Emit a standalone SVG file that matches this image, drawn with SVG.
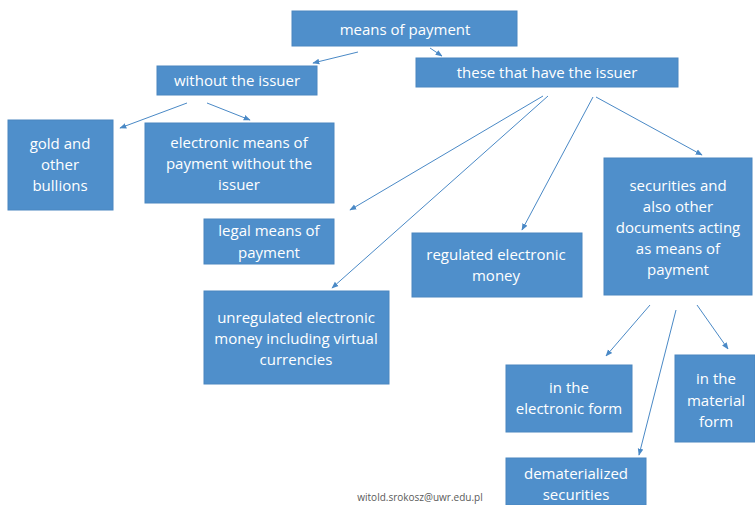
<svg xmlns="http://www.w3.org/2000/svg" width="755" height="505" viewBox="0 0 755 505">
<style>
.box{fill:#4F8FCB;stroke:#4A86C0;stroke-width:1}
.t{font-family:"Open Sans","Liberation Sans",sans-serif;font-size:15px;fill:#ffffff;text-anchor:middle}
.c{stroke:#4A89C6;stroke-width:1;fill:none;marker-end:url(#ah)}
.f{font-family:"Open Sans","Liberation Sans",sans-serif;font-size:10px;fill:#5a5a5a}
</style>
<defs>
<marker id="ah" viewBox="0 0 10 10" refX="9" refY="5" markerWidth="7" markerHeight="7" orient="auto" markerUnits="userSpaceOnUse">
<path d="M0,1 L10,5 L0,9 z" fill="#4A89C6"/>
</marker>
</defs>
<rect width="755" height="505" fill="#ffffff"/>
<g id="connectors">
<line class="c" x1="358" y1="52" x2="313" y2="63"/>
<line class="c" x1="430" y1="48" x2="442" y2="56"/>
<line class="c" x1="187" y1="103" x2="120" y2="128"/>
<line class="c" x1="207" y1="103" x2="250" y2="120"/>
<line class="c" x1="543" y1="96" x2="350" y2="210"/>
<line class="c" x1="548" y1="96" x2="332" y2="288"/>
<line class="c" x1="593" y1="97" x2="522" y2="230"/>
<line class="c" x1="596" y1="97" x2="702" y2="155"/>
<line class="c" x1="650" y1="305" x2="606" y2="356"/>
<line class="c" x1="676" y1="310" x2="639" y2="455"/>
<line class="c" x1="697" y1="305" x2="728" y2="349"/>
</g>
<g id="n1"><rect class="box" x="292" y="11" width="225" height="35"/><text class="t" x="405" y="35">means of payment</text></g>
<g id="n2"><rect class="box" x="157" y="66" width="160" height="29"/><text class="t" x="237" y="86">without the issuer</text></g>
<g id="n3"><rect class="box" x="416" y="58" width="262" height="29"/><text class="t" x="547" y="78">these that have the issuer</text></g>
<g id="n4"><rect class="box" x="8" y="120" width="105" height="90"/><text class="t" x="60"><tspan x="60" y="149">gold and</tspan><tspan x="60" y="170">other</tspan><tspan x="60" y="191">bullions</tspan></text></g>
<g id="n5"><rect class="box" x="145" y="123" width="189" height="80"/><text class="t"><tspan x="239" y="148">electronic means of</tspan><tspan x="239" y="169">payment without the</tspan><tspan x="239" y="190">issuer</tspan></text></g>
<g id="n6"><rect class="box" x="204" y="219" width="130" height="45"/><text class="t"><tspan x="269" y="236">legal means of</tspan><tspan x="269" y="258">payment</tspan></text></g>
<g id="n7"><rect class="box" x="412" y="233" width="170" height="64"/><text class="t"><tspan x="496" y="260">regulated electronic</tspan><tspan x="496" y="281">money</tspan></text></g>
<g id="n8"><rect class="box" x="604" y="158" width="148" height="137"/><text class="t"><tspan x="678" y="191">securities and</tspan><tspan x="678" y="212">also other</tspan><tspan x="678" y="233">documents acting</tspan><tspan x="678" y="254">as means of</tspan><tspan x="678" y="275">payment</tspan></text></g>
<g id="n9"><rect class="box" x="204" y="291" width="185" height="93"/><text class="t"><tspan x="296" y="323">unregulated electronic</tspan><tspan x="296" y="344">money including virtual</tspan><tspan x="296" y="365">currencies</tspan></text></g>
<g id="n10"><rect class="box" x="506" y="365" width="126" height="67"/><text class="t"><tspan x="569" y="393">in the</tspan><tspan x="569" y="414">electronic form</tspan></text></g>
<g id="n11"><rect class="box" x="675" y="355" width="80" height="87"/><text class="t"><tspan x="716" y="384">in the</tspan><tspan x="716" y="406">material</tspan><tspan x="716" y="427">form</tspan></text></g>
<g id="n12"><rect class="box" x="506" y="458" width="140" height="47"/><text class="t"><tspan x="576" y="479">dematerialized</tspan><tspan x="576" y="500">securities</tspan></text></g>
<text class="f" x="420" y="501" text-anchor="middle">witold.srokosz@uwr.edu.pl</text>
</svg>
